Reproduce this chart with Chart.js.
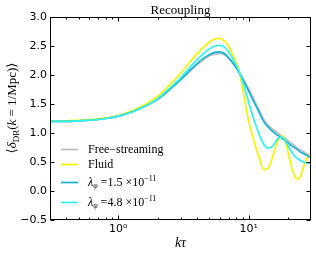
<!DOCTYPE html>
<html><head><meta charset="utf-8">
<script src="https://cdn.jsdelivr.net/npm/chart.js@4/dist/chart.umd.min.js"></script>
<style>html,body{margin:0;padding:0;background:#fff;}canvas{display:block}</style>
</head><body>
<canvas id="c" width="316" height="254"></canvas>
<script>
const kTau = [0.3,0.4,0.5,0.6,0.8,1.0,1.3,1.6,2.0,2.5,3.0,3.5,4.0,4.5,5.0,5.5,6.0,6.5,7.0,7.5,8.0,8.5,9.0,9.5,10,11,12,13,14,15,16,17,18,19,20,21,22,23,24,25,26,27,28,29,30];
const freeStreaming = [1.20,1.20,1.21,1.22,1.25,1.29,1.37,1.46,1.58,1.75,1.91,2.05,2.17,2.26,2.33,2.36,2.37,2.35,2.29,2.21,2.13,2.04,1.95,1.85,1.76,1.57,1.40,1.24,1.14,1.08,1.03,0.99,0.95,0.91,0.87,0.83,0.80,0.76,0.73,0.71,0.68,0.66,0.64,0.62,0.61];
const fluid = [1.21,1.21,1.22,1.23,1.26,1.30,1.39,1.49,1.63,1.84,2.03,2.21,2.36,2.48,2.57,2.62,2.63,2.59,2.50,2.36,2.21,2.04,1.75,1.46,1.20,0.85,0.58,0.37,0.39,0.54,0.74,0.90,0.95,0.86,0.67,0.47,0.31,0.22,0.21,0.27,0.38,0.49,0.57,0.61,0.63];
const lambda15 = [1.20,1.20,1.21,1.22,1.25,1.29,1.37,1.46,1.58,1.76,1.92,2.07,2.19,2.29,2.35,2.39,2.40,2.37,2.30,2.22,2.13,2.03,1.93,1.82,1.72,1.53,1.36,1.20,1.11,1.04,0.99,0.95,0.91,0.87,0.83,0.79,0.76,0.73,0.70,0.67,0.65,0.63,0.61,0.59,0.58];
const lambda48 = [1.20,1.20,1.21,1.22,1.25,1.29,1.37,1.46,1.59,1.78,1.95,2.12,2.26,2.37,2.45,2.50,2.51,2.48,2.40,2.29,2.17,2.04,1.88,1.70,1.52,1.22,0.98,0.81,0.74,0.76,0.84,0.92,0.93,0.87,0.78,0.70,0.63,0.58,0.55,0.52,0.50,0.49,0.48,0.48,0.47];
const seriesNames = ['Free\u2212streaming','Fluid','\u03bb1.5','\u03bb4.8'];
const lambdaValues = ['1.5','4.8'];
const seriesColors = ['#bdbdbd','#f5f500','#12b4d6','#33f2f2'];
const xMajorTicks = [1,10];
const xMajorLabels = ['10\u2070','10\u00b9'];
const xMinorTicks = [0.3,0.4,0.5,0.6,0.7,0.8,0.9,2,3,4,5,6,7,8,9,20,30];
const yMin = -0.5, yMax = 3.0, yStep = 0.5;
const titleText = 'Recoupling';

const allSeries = [freeStreaming, fluid, lambda15, lambda48];
const datasets = allSeries.map((arr,i)=>({
  label: seriesNames[i],
  data: kTau.map((k,j)=>({x:k,y:arr[j]})),
  borderColor: seriesColors[i],
  backgroundColor: seriesColors[i],
  borderWidth: 1.7,
  pointRadius: 0,
  cubicInterpolationMode: 'monotone',
  fill: false,
  order: 4-i
}));

const SERIF = '"Liberation Serif","DejaVu Serif",serif';
const SANS = '"DejaVu Sans",sans-serif';

function drawPieces(ctx, pieces, x, y){
  let cx = x;
  for(const p of pieces){
    ctx.font = p.font;
    ctx.fillText(p.t, cx, y + (p.dy||0));
    cx += ctx.measureText(p.t).width;
  }
  return cx;
}
function piecesWidth(ctx,pieces){
  let w=0; for(const p of pieces){ctx.font=p.font; w+=ctx.measureText(p.t).width;} return w;
}

const decor = {
  id:'decor',
  afterDraw(chart){
    const ctx = chart.ctx, a = chart.chartArea;
    const xs = chart.scales.x, ys = chart.scales.y;
    ctx.save();
    ctx.strokeStyle = '#000'; ctx.lineWidth = 1;
    ctx.strokeRect(Math.round(a.left)+0.5, Math.round(a.top)+0.5, Math.round(a.right-a.left)-1, Math.round(a.bottom-a.top)-1);
    ctx.beginPath();
    const L = Math.round(a.left)+0.5, R = Math.round(a.right)-0.5, T = Math.round(a.top)+0.5, B = Math.round(a.bottom)-0.5;
    for(const v of xMajorTicks){ const px = Math.round(xs.getPixelForValue(v))+0.5; ctx.moveTo(px,B); ctx.lineTo(px,B-4); ctx.moveTo(px,T); ctx.lineTo(px,T+4); }
    for(const v of xMinorTicks){ if(v<=xs.min||v>=xs.max) continue; const px = Math.round(xs.getPixelForValue(v))+0.5; ctx.moveTo(px,B); ctx.lineTo(px,B-2); ctx.moveTo(px,T); ctx.lineTo(px,T+2); }
    for(let v=yMin; v<=yMax+1e-9; v+=yStep){ const py = Math.round(ys.getPixelForValue(v))+0.5; ctx.moveTo(L,py); ctx.lineTo(L+4,py); ctx.moveTo(R,py); ctx.lineTo(R-4,py); }
    ctx.stroke();

    ctx.fillStyle = '#000';
    ctx.font = '13px '+SERIF; ctx.textAlign='center'; ctx.textBaseline='alphabetic';
    ctx.fillText(titleText, (a.left+a.right)/2, 14);
    ctx.font = 'italic 14px '+SERIF;
    ctx.fillText('k\u03c4', (a.left+a.right)/2, 247);
    ctx.textAlign='left';
    const yl = [
      {t:'\u27e8', font:'13px '+SERIF},
      {t:'\u03b4', font:'italic 13px '+SERIF},
      {t:'DR', font:'9px '+SERIF, dy:3},
      {t:'(', font:'13px '+SERIF},
      {t:'k', font:'italic 13px '+SERIF},
      {t:' = 1/Mpc)', font:'13px '+SERIF},
      {t:'\u27e9', font:'13px '+SERIF}
    ];
    const w = piecesWidth(ctx,yl);
    ctx.save(); ctx.translate(16,108); ctx.rotate(-Math.PI/2);
    drawPieces(ctx, yl, -w/2, 0);
    ctx.restore();

    const rows = [149,164,182,202];
    chart.data.datasets.forEach((ds,i)=>{
      const y = rows[i];
      ctx.strokeStyle = ds.borderColor; ctx.lineWidth = 1.7;
      ctx.beginPath(); ctx.moveTo(61,y+0.5); ctx.lineTo(78,y+0.5); ctx.stroke();
      ctx.fillStyle='#000'; ctx.textBaseline='middle';
      if(i<2){
        ctx.font='12px '+SERIF; ctx.fillText(ds.label, 88, y+1);
      } else {
        const lv = lambdaValues[i-2];
        drawPieces(ctx,[
          {t:'\u03bb', font:'italic 12px '+SERIF},
          {t:'\u03c6', font:'italic 8px '+SERIF, dy:3},
          {t:' =', font:'12px '+SERIF},
          {t:lv+' \u00d710', font:'12px '+SERIF},
          {t:'\u221211', font:'8px '+SERIF, dy:-4}
        ], 88, y+1);
      }
    });
    ctx.restore();
  }
};

new Chart(document.getElementById('c'), {
  type:'line',
  data:{datasets},
  options:{
    responsive:false, animation:false, devicePixelRatio:1,
    layout:{padding:{top:17,right:5,left:0,bottom:0}},
    plugins:{legend:{display:false}, tooltip:{enabled:false}, title:{display:false}},
    scales:{
      x:{type:'logarithmic', min:0.3, max:30,
        grid:{display:false, drawTicks:false}, border:{display:false},
        ticks:{color:'#000', font:{family:SANS,size:11}, padding:3, autoSkip:false, maxRotation:0,
          callback:(v)=>{const i=xMajorTicks.indexOf(v); return i>=0?xMajorLabels[i]:'';}},
        afterBuildTicks:(s)=>{s.ticks = xMajorTicks.map(v=>({value:v}));},
        afterFit:(s)=>{s.height=34;}
      },
      y:{type:'linear', min:yMin, max:yMax,
        grid:{display:false, drawTicks:false}, border:{display:false},
        ticks:{stepSize:yStep, color:'#000', font:{family:SANS,size:11}, padding:3,
          callback:(v)=>v.toFixed(1).replace('-','\u2212')},
        afterFit:(s)=>{s.width=50;}
      }
    }
  },
  plugins:[decor]
});
</script>
</body></html>
